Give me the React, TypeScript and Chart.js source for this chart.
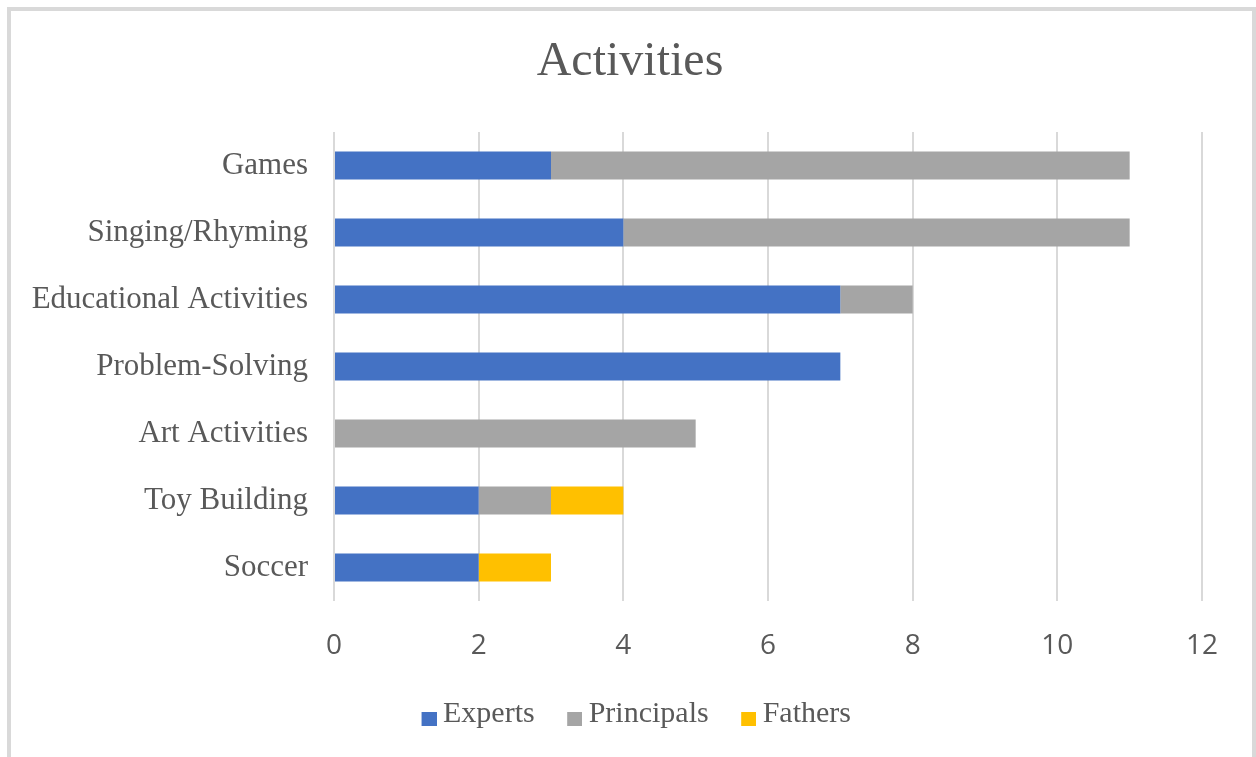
import React, { useEffect, useRef } from "react";
import { Chart, registerables } from "chart.js";

Chart.register(...registerables);

const categories = [
  "Games",
  "Singing/Rhyming",
  "Educational Activities",
  "Problem-Solving",
  "Art Activities",
  "Toy Building",
  "Soccer",
];
const experts = [3, 4, 7, 7, 0, 2, 2];
const principals = [8, 7, 1, 0, 5, 1, 0];
const fathers = [0, 0, 0, 0, 0, 1, 1];
const xTicks = [0, 2, 4, 6, 8, 10, 12];
const seriesColors = ["#4472C4", "#A5A5A5", "#FFC000"];

const SERIF = "'Liberation Serif', 'Times New Roman', serif";
const SANS = "'Open Sans', 'Noto Sans', sans-serif";
const TEXT = "#595959";

// shifts the title and legend boxes horizontally after layout
const shiftPlugin = {
  id: "shiftBlocks",
  afterLayout(chart: any) {
    const t = chart.titleBlock;
    if (t) {
      t.left += 19;
      t.right += 19;
    }
    const l = chart.legend;
    if (l) {
      l.left += 21;
      l.right += 21;
    }
  },
};

function makeSwatch(color: string) {
  const c = document.createElement("canvas");
  c.width = 32;
  c.height = 24;
  const ctx = c.getContext("2d");
  if (ctx) {
    ctx.fillStyle = color;
    ctx.fillRect(17, 10, 15, 14);
  }
  return c;
}

export default function App() {
  const ref = useRef<HTMLCanvasElement | null>(null);

  useEffect(() => {
    if (!ref.current) return;
    const swatches = seriesColors.map(makeSwatch);
    const chart = new Chart(ref.current, {
      type: "bar",
      data: {
        labels: categories,
        datasets: [
          { label: "Experts", data: experts, backgroundColor: seriesColors[0] },
          { label: "Principals", data: principals, backgroundColor: seriesColors[1] },
          { label: "Fathers", data: fathers, backgroundColor: seriesColors[2] },
        ],
      },
      plugins: [shiftPlugin],
      options: {
        indexAxis: "y",
        responsive: false,
        animation: false,
        devicePixelRatio: 1,
        layout: { padding: { left: 20, right: 54, top: 0, bottom: 18 } },
        datasets: {
          bar: { barPercentage: 0.42, categoryPercentage: 1 },
        },
        scales: {
          x: {
            stacked: true,
            min: 0,
            max: 12,
            afterBuildTicks: (s: any) => {
              s.ticks = xTicks.map((v) => ({ value: v }));
            },
            afterFit: (s: any) => {
              s.height = 74;
            },
            grid: { color: "#D9D9D9", lineWidth: 2, drawTicks: false },
            border: { display: false },
            ticks: {
              padding: 28,
              color: TEXT,
              font: { family: SANS, size: 28 },
            },
          },
          y: {
            stacked: true,
            afterFit: (s: any) => {
              s.width = 314;
            },
            grid: { display: false, drawTicks: false },
            border: { display: false },
            ticks: {
              padding: 26,
              color: TEXT,
              font: { family: SERIF, size: 31 },
            },
          },
        },
        plugins: {
          title: {
            display: true,
            text: "Activities",
            color: TEXT,
            font: { family: SERIF, size: 48, weight: "normal" },
            padding: { top: 34, bottom: 40.4 },
          },
          legend: {
            position: "bottom",
            labels: {
              usePointStyle: true,
              boxWidth: 15,
              boxHeight: 15,
              padding: 24,
              color: TEXT,
              font: { family: SERIF, size: 30 },
              generateLabels: (c: any) => {
                const items = (Chart as any).defaults.plugins.legend.labels.generateLabels(c);
                return items.map((it: any, i: number) => ({ ...it, pointStyle: swatches[i] }));
              },
            },
          },
          tooltip: { enabled: false },
        },
      },
    });
    return () => chart.destroy();
  }, []);

  return (
    <div style={{ position: "fixed", inset: 0, overflow: "hidden", background: "#fff" }}>
      <div
        style={{
          position: "absolute",
          left: 7,
          top: 7,
          width: 1249,
          height: 800,
          boxSizing: "border-box",
          border: "4px solid #D9D9D9",
        }}
      />
      <canvas
        ref={ref}
        width={1256}
        height={757}
        style={{ position: "absolute", left: 0, top: 0, width: 1256, height: 757 }}
      />
    </div>
  );
}
